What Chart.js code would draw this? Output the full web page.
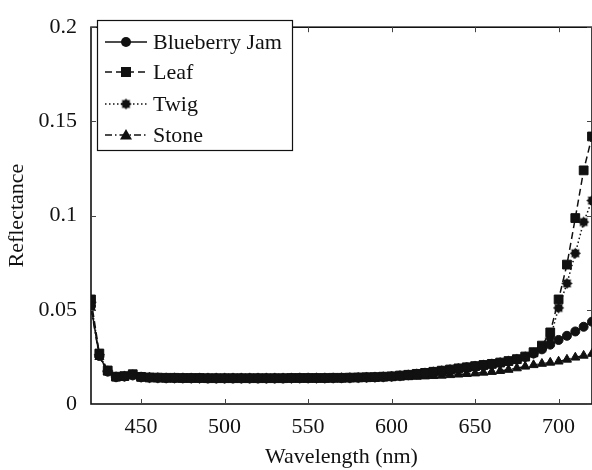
<!DOCTYPE html>
<html>
<head>
<meta charset="utf-8">
<script src="https://cdn.jsdelivr.net/npm/chart.js@4.4.0/dist/chart.umd.min.js"></script>
<style>
  html, body { margin: 0; padding: 0; background: #fff; overflow: hidden; }
</style>
</head>
<body>
<canvas id="chart" width="592" height="470"></canvas>
<script>
'use strict';

// ── Data ──
const wavelengths = [420, 425, 430, 435, 440, 445, 450, 455, 460, 465, 470, 475, 480, 485, 490, 495,
  500, 505, 510, 515, 520, 525, 530, 535, 540, 545, 550, 555, 560, 565, 570, 575, 580, 585, 590, 595,
  600, 605, 610, 615, 620, 625, 630, 635, 640, 645, 650, 655, 660, 665, 670, 675, 680, 685, 690, 695,
  700, 705, 710, 715, 720];

const blueberry = [0.0520, 0.0255, 0.0172, 0.0143, 0.0146, 0.0152, 0.0142, 0.0140, 0.0139, 0.0138, 0.0138, 0.0137, 0.0137, 0.0137, 0.0136, 0.0136,
  0.0136, 0.0136, 0.0136, 0.0136, 0.0136, 0.0136, 0.0136, 0.0136, 0.0137, 0.0137, 0.0137, 0.0137, 0.0137, 0.0138, 0.0138, 0.0139, 0.0140, 0.0141, 0.0142, 0.0144,
  0.0146, 0.0150, 0.0154, 0.0159, 0.0164, 0.0170, 0.0176, 0.0182, 0.0188, 0.0194, 0.0200, 0.0206, 0.0212, 0.0219, 0.0226, 0.0236, 0.0250, 0.0268, 0.0290, 0.0315,
  0.0340, 0.0362, 0.0385, 0.0410, 0.0437];

const leaf = [0.0555, 0.0268, 0.0178, 0.0145, 0.0148, 0.0158, 0.0144, 0.0141, 0.0140, 0.0139, 0.0139, 0.0138, 0.0138, 0.0138, 0.0137, 0.0137,
  0.0137, 0.0137, 0.0137, 0.0137, 0.0137, 0.0137, 0.0137, 0.0137, 0.0138, 0.0138, 0.0138, 0.0138, 0.0138, 0.0139, 0.0139, 0.0140, 0.0141, 0.0142, 0.0143, 0.0145,
  0.0147, 0.0151, 0.0155, 0.0160, 0.0165, 0.0171, 0.0177, 0.0183, 0.0189, 0.0195, 0.0201, 0.0207, 0.0213, 0.0220, 0.0228, 0.0238, 0.0252, 0.0275, 0.0310, 0.0380,
  0.0555, 0.0740, 0.0987, 0.1240, 0.1420];

const twig = [0.0540, 0.0262, 0.0175, 0.0144, 0.0147, 0.0155, 0.0143, 0.0140, 0.0139, 0.0138, 0.0138, 0.0138, 0.0137, 0.0137, 0.0137, 0.0137,
  0.0137, 0.0137, 0.0137, 0.0137, 0.0137, 0.0137, 0.0137, 0.0137, 0.0137, 0.0138, 0.0138, 0.0138, 0.0138, 0.0138, 0.0139, 0.0139, 0.0140, 0.0141, 0.0142, 0.0144,
  0.0146, 0.0150, 0.0154, 0.0159, 0.0164, 0.0170, 0.0176, 0.0182, 0.0188, 0.0194, 0.0200, 0.0206, 0.0212, 0.0219, 0.0227, 0.0237, 0.0250, 0.0270, 0.0295, 0.0350,
  0.0510, 0.0640, 0.0800, 0.0966, 0.1080];

const stone = [0.0510, 0.0250, 0.0168, 0.0140, 0.0143, 0.0150, 0.0140, 0.0138, 0.0137, 0.0136, 0.0135, 0.0135, 0.0135, 0.0135, 0.0135, 0.0135,
  0.0135, 0.0135, 0.0135, 0.0135, 0.0135, 0.0135, 0.0135, 0.0135, 0.0135, 0.0135, 0.0135, 0.0135, 0.0135, 0.0135, 0.0135, 0.0136, 0.0136, 0.0137, 0.0137, 0.0138,
  0.0139, 0.0141, 0.0143, 0.0145, 0.0147, 0.0149, 0.0151, 0.0154, 0.0157, 0.0160, 0.0163, 0.0167, 0.0171, 0.0176, 0.0182, 0.0190, 0.0199, 0.0207, 0.0214, 0.0220,
  0.0226, 0.0236, 0.0247, 0.0257, 0.0267];

const seriesNames = ['Blueberry Jam', 'Leaf', 'Twig', 'Stone'];
const xTicks = [450, 500, 550, 600, 650, 700];
const xTickLabels = ['450', '500', '550', '600', '650', '700'];
const yTicks = [0, 0.05, 0.1, 0.15, 0.2];
const yTickLabels = ['0', '0.05', '0.1', '0.15', '0.2'];

const FONT = '"Liberation Serif", "Times New Roman", serif';

// Twig marker: a filled jagged circle (like the MATLAB asterisk blob)
function makeTwigMarker() {
  const c = document.createElement('canvas');
  c.width = 13; c.height = 13;
  const g = c.getContext('2d');
  g.fillStyle = '#111';
  g.beginPath();
  const n = 16;
  for (let i = 0; i < n; i++) {
    const a = (i / n) * Math.PI * 2;
    const r = i % 2 === 0 ? 5.6 : 4.0;
    const px = 6.5 + r * Math.cos(a), py = 6.5 + r * Math.sin(a);
    if (i === 0) g.moveTo(px, py); else g.lineTo(px, py);
  }
  g.closePath();
  g.fill();
  return c;
}
const twigMarker = makeTwigMarker();

const toPoints = arr => wavelengths.map((w, i) => ({ x: w, y: arr[i] }));

const datasets = [
  { label: seriesNames[0], data: toPoints(blueberry), borderDash: [], pointStyle: 'circle', pointRadius: 4.5 },
  { label: seriesNames[1], data: toPoints(leaf), borderDash: [7, 4], pointStyle: 'rect', pointRadius: 6.2 },
  { label: seriesNames[2], data: toPoints(twig), borderDash: [1.5, 2.5], pointStyle: twigMarker, pointRadius: 5 },
  { label: seriesNames[3], data: toPoints(stone), borderDash: [7, 3, 1.5, 3], pointStyle: 'triangle', pointRadius: 5.2 },
].map(d => Object.assign(d, {
  borderColor: '#111',
  backgroundColor: '#111',
  pointBackgroundColor: '#111',
  pointBorderColor: '#111',
  pointBorderWidth: 1,
  borderWidth: 1.5,
  tension: 0,
  fill: false,
}));

// ── Box with inward ticks on all four sides, plus the x tick labels ──
const boxPlugin = {
  id: 'box',
  afterDraw(chart) {
    const { ctx, chartArea: a, scales: { x, y } } = chart;
    ctx.save();
    ctx.strokeStyle = '#111';
    ctx.lineWidth = 1.6;
    ctx.strokeRect(a.left, a.top, a.right - a.left, a.bottom - a.top);
    ctx.lineWidth = 1;
    ctx.strokeStyle = '#444';
    ctx.beginPath();
    for (const t of xTicks) {
      const px = Math.round(x.getPixelForValue(t)) + 0.5;
      ctx.moveTo(px, a.bottom); ctx.lineTo(px, a.bottom - 5);
      ctx.moveTo(px, a.top); ctx.lineTo(px, a.top + 5);
    }
    for (const t of yTicks) {
      const py = Math.round(y.getPixelForValue(t)) + 0.5;
      ctx.moveTo(a.left, py); ctx.lineTo(a.left + 5, py);
      ctx.moveTo(a.right, py); ctx.lineTo(a.right - 5, py);
    }
    ctx.stroke();

    ctx.fillStyle = '#111';
    ctx.font = '22px ' + FONT;
    ctx.textAlign = 'center';
    ctx.textBaseline = 'middle';
    xTicks.forEach((t, i) => ctx.fillText(xTickLabels[i], x.getPixelForValue(t), a.bottom + 23));
    ctx.restore();
  }
};

// ── Legend box inside the axes, upper left ──
function drawMarker(ctx, style, cx, cy) {
  ctx.fillStyle = '#111';
  if (style === 'circle') {
    ctx.beginPath(); ctx.arc(cx, cy, 5, 0, Math.PI * 2); ctx.fill();
  } else if (style === 'rect') {
    ctx.fillRect(cx - 5, cy - 5, 10, 10);
  } else if (style === 'triangle') {
    ctx.beginPath();
    ctx.moveTo(cx, cy - 6); ctx.lineTo(cx + 6, cy + 4.5); ctx.lineTo(cx - 6, cy + 4.5);
    ctx.closePath(); ctx.fill();
  } else {
    ctx.drawImage(style, cx - 6.5, cy - 6.5);
  }
}

const legendPlugin = {
  id: 'boxLegend',
  afterDraw(chart) {
    const { ctx } = chart;
    const bx = 97.5, by = 20.5, bw = 195, bh = 130;
    const rows = [42, 72, 104, 135];
    ctx.save();
    ctx.fillStyle = '#fff';
    ctx.fillRect(bx, by, bw, bh);
    ctx.strokeStyle = '#111';
    ctx.lineWidth = 1.2;
    ctx.strokeRect(bx, by, bw, bh);
    chart.data.datasets.forEach((ds, i) => {
      const cy = rows[i];
      ctx.strokeStyle = '#111';
      ctx.lineWidth = 1.5;
      ctx.setLineDash(ds.borderDash);
      ctx.beginPath(); ctx.moveTo(105, cy); ctx.lineTo(147, cy); ctx.stroke();
      ctx.setLineDash([]);
      drawMarker(ctx, ds.pointStyle, 126, cy);
      ctx.fillStyle = '#111';
      ctx.font = '22px ' + FONT;
      ctx.textBaseline = 'middle';
      ctx.textAlign = 'left';
      ctx.fillText(ds.label, 153, cy + 1);
    });
    ctx.restore();
  }
};

new Chart(document.getElementById('chart'), {
  type: 'line',
  data: { datasets },
  plugins: [boxPlugin, legendPlugin],
  options: {
    responsive: false,
    animation: false,
    layout: { autoPadding: false, padding: { top: 15, right: 0, left: 0, bottom: 0 } },
    plugins: { legend: { display: false }, tooltip: { enabled: false } },
    scales: {
      x: {
        type: 'linear',
        min: 420,
        max: 720,
        afterBuildTicks(scale) { scale.ticks = xTicks.map(v => ({ value: v })); },
        afterFit(scale) { scale.height = 66; scale.paddingLeft = 0; scale.paddingRight = 0; },
        grid: { display: false, drawTicks: false },
        border: { display: false },
        ticks: { display: false },
        title: { display: true, text: 'Wavelength (nm)', color: '#111', font: { family: FONT, size: 22 }, padding: { top: 0, bottom: 0 } },
      },
      y: {
        min: 0,
        max: 0.2,
        afterBuildTicks(scale) { scale.ticks = yTicks.map(v => ({ value: v })); },
        afterFit(scale) { scale.width = 91; },
        grid: { display: false, drawTicks: false },
        border: { display: false },
        ticks: {
          color: '#111',
          font: { family: FONT, size: 22 },
          padding: 14,
          callback: (v, i) => yTickLabels[i],
        },
        title: { display: true, text: 'Reflectance', color: '#111', font: { family: FONT, size: 22 }, padding: { top: 4, bottom: 0 } },
      },
    },
  },
});
</script>
</body>
</html>
